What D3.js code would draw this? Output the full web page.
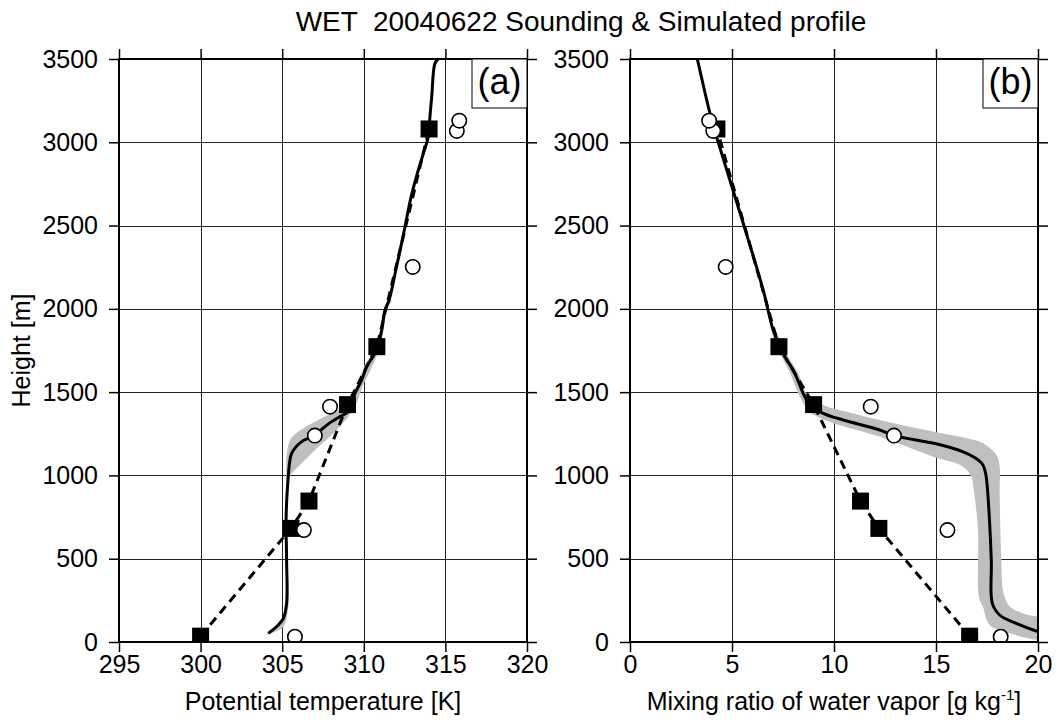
<!DOCTYPE html>
<html lang="en">
<head>
<meta charset="utf-8">
<title>WET 20040622 Sounding & Simulated profile</title>
<script src="https://d3js.org/d3.v7.min.js"></script>
<style>
  body { margin: 0; background: #fff; }
  svg text { font-family: "Liberation Sans", Arial, Helvetica, sans-serif; fill: #000; }
</style>
</head>
<body>
<svg id="chart" width="1058" height="725"></svg>
<script>
// ---- data ----
const heightTicks = [0, 500, 1000, 1500, 2000, 2500, 3000, 3500];
const thetaTicks = [295, 300, 305, 310, 315, 320];
const mixTicks = [0, 5, 10, 15, 20];

// radiosonde (filled squares, dashed line)
const sondeHeight = [35, 682, 846, 1425, 1773, 3080];
const sondeTheta = [300.0, 305.54, 306.64, 309.0, 310.8, 314.0];
const sondeMix = [16.65, 12.2, 11.3, 9.0, 7.3, 4.26];

// open circles
const obsHeight = [32, 672, 1239, 1413, 2252, 3068, 3130];
const obsTheta = [305.78, 306.33, 307.0, 307.93, 313.0, 315.7, 315.85];
const obsMix = [18.17, 15.56, 12.94, 11.8, 4.69, 4.08, 3.88];

// simulated mean profile, potential temperature
const modelThetaHeight = [52, 102, 142, 232, 492, 752, 993, 1073, 1133, 1203, 1237, 1283, 1323, 1353, 1383, 1425,
  1493, 1573, 1653, 1753, 1873, 1993, 2053, 2250, 2443, 2673, 2813, 2933, 3033, 3150, 3273, 3474, 3500];
const modelTheta = [304.15, 304.76, 305.07, 305.27, 305.27, 305.24, 305.37, 305.45, 305.58, 306.19, 306.95, 307.5,
  308.03, 308.54, 309.05, 309.2, 309.46, 309.87, 310.18, 310.79, 311.1, 311.3, 311.55, 312.0, 312.42, 312.9,
  313.28, 313.65, 313.95, 314.05, 314.16, 314.36, 314.56];

// simulated mean profile, mixing ratio
const modelMixHeight = [62, 112, 162, 232, 492, 873, 1000, 1063, 1103, 1143, 1190, 1239, 1273, 1333, 1373, 1423,
  1493, 1613, 1733, 1873, 2113, 2514, 3034, 3174, 3500];
const modelMix = [20.0, 18.93, 18.12, 17.76, 17.71, 17.55, 17.45, 17.3, 16.95, 16.3, 15.0, 12.94, 12.24, 10.45,
  9.47, 8.82, 8.49, 8.08, 7.51, 7.02, 6.53, 5.55, 4.24, 3.92, 3.30];

// ensemble spread (grey band) edges as [value, height]
const thetaBandLeft = [[304.0, 45], [304.7, 95], [305.05, 135], [305.2, 230], [305.2, 750], [305.25, 1000],
  [305.27, 1113], [305.48, 1213], [305.99, 1263], [307.41, 1343], [308.43, 1393], [309.0, 1430], [309.35, 1500],
  [309.75, 1580], [310.05, 1660], [310.65, 1760], [311.0, 1870], [311.2, 1990], [311.5, 2050]];
const thetaBandRight = [[304.2, 50], [304.56, 62], [305.07, 92], [305.37, 212], [305.33, 500], [305.3, 752],
  [305.45, 990], [305.78, 1033], [306.4, 1093], [307.2, 1170], [308.03, 1243], [309.05, 1353], [309.55, 1430],
  [309.9, 1530], [310.45, 1640], [310.95, 1760], [311.2, 1870], [311.4, 1990], [311.7, 2050]];

const mixBandOuter = [[7.1, 1873], [7.65, 1733], [8.3, 1600], [8.6, 1500], [9.47, 1423], [10.61, 1383],
  [12.24, 1333], [14.85, 1263], [16.49, 1223], [17.3, 1193], [17.96, 1123], [18.12, 1053], [18.12, 913],
  [18.2, 500], [18.3, 300], [18.6, 215], [19.3, 170], [20.3, 132]];
const mixBandInner = [[6.95, 1873], [7.35, 1733], [7.85, 1613], [8.3, 1480], [8.81, 1383], [9.79, 1323],
  [12.24, 1233], [14.9, 1110], [16.32, 1053], [16.73, 993], [16.85, 913], [17.06, 672], [17.1, 272],
  [17.3, 212], [17.63, 102], [18.61, 52], [20.3, 22]];

// ---- drawing ----
const svg = d3.select('#chart');
const plotTop = 59, plotBottom = 642;

svg.append('text')
  .attr('x', 581).attr('y', 31)
  .attr('text-anchor', 'middle')
  .style('font-size', '28px')
  .style('white-space', 'pre')
  .text('WET  20040622 Sounding & Simulated profile');

function drawPanel(p) {
  const x = d3.scaleLinear().domain(p.xDomain).range([p.left, p.right]);
  const y = d3.scaleLinear().domain([0, 3500]).range([plotBottom, plotTop]);
  const g = svg.append('g');

  g.append('clipPath').attr('id', p.id + '-clip')
    .append('rect')
    .attr('x', p.left).attr('y', plotTop)
    .attr('width', p.right - p.left).attr('height', plotBottom - plotTop);

  // grid
  g.append('g').selectAll('line').data(p.xTicks).join('line')
    .attr('x1', d => Math.round(x(d)) + 0.5).attr('x2', d => Math.round(x(d)) + 0.5)
    .attr('y1', plotTop).attr('y2', plotBottom)
    .attr('stroke', '#222').attr('stroke-width', 1);
  g.append('g').selectAll('line').data(heightTicks).join('line')
    .attr('y1', d => Math.round(y(d)) + 0.5).attr('y2', d => Math.round(y(d)) + 0.5)
    .attr('x1', p.left).attr('x2', p.right)
    .attr('stroke', '#222').attr('stroke-width', 1);

  const plot = g.append('g').attr('clip-path', 'url(#' + p.id + '-clip)');

  // grey spread band
  const band = p.bandA.concat(p.bandB.slice().reverse());
  plot.append('path')
    .attr('d', d3.line().x(d => x(d[0])).y(d => y(d[1])).curve(d3.curveCatmullRomClosed.alpha(0.5))(band))
    .attr('fill', '#bfbfbf').attr('stroke', 'none');

  // sounding (dashed)
  const sonde = p.sondeX.map((v, i) => [v, sondeHeight[i]]);
  plot.append('path')
    .attr('d', d3.line().x(d => x(d[0])).y(d => y(d[1]))(sonde))
    .attr('fill', 'none').attr('stroke', '#000').attr('stroke-width', 3)
    .attr('stroke-dasharray', '9,6');

  // simulated mean
  const model = p.modelX.map((v, i) => [v, p.modelH[i]]);
  plot.append('path')
    .attr('d', d3.line().x(d => x(d[0])).y(d => y(d[1])).curve(d3.curveCatmullRom.alpha(0.5))(model))
    .attr('fill', 'none').attr('stroke', '#000').attr('stroke-width', 3)
    .attr('stroke-linejoin', 'round');

  // squares
  plot.append('g').selectAll('rect').data(sonde).join('rect')
    .attr('x', d => x(d[0]) - 8.5).attr('y', d => y(d[1]) - 8.5)
    .attr('width', 17).attr('height', 17)
    .attr('fill', '#000');

  // circles
  const obs = p.obsX.map((v, i) => [v, obsHeight[i]]);
  plot.append('g').selectAll('circle').data(obs).join('circle')
    .attr('cx', d => x(d[0])).attr('cy', d => y(d[1]))
    .attr('r', 7.2)
    .attr('fill', '#fff').attr('stroke', '#000').attr('stroke-width', 1.6);

  // axes: ticks on all four sides, outward
  const style = sel => {
    sel.select('.domain').remove();
    sel.selectAll('.tick line').attr('stroke', '#000').attr('stroke-width', 1.5);
    sel.selectAll('.tick text').style('font-size', '25px').attr('fill', '#000');
  };
  g.append('g').attr('transform', 'translate(0,' + plotBottom + ')')
    .call(d3.axisBottom(x).tickValues(p.xTicks).tickSize(10).tickPadding(3).tickFormat(d3.format('d')))
    .call(style);
  g.append('g').attr('transform', 'translate(0,' + plotTop + ')')
    .call(d3.axisTop(x).tickValues(p.xTicks).tickSize(10).tickFormat(''))
    .call(style);
  g.append('g').attr('transform', 'translate(' + p.left + ',0)')
    .call(d3.axisLeft(y).tickValues(heightTicks).tickSize(10).tickPadding(11).tickFormat(d3.format('d')))
    .call(style);
  g.append('g').attr('transform', 'translate(' + p.right + ',0)')
    .call(d3.axisRight(y).tickValues(heightTicks).tickSize(10).tickFormat(''))
    .call(style);

  // frame
  g.append('rect')
    .attr('x', p.left).attr('y', plotTop)
    .attr('width', p.right - p.left).attr('height', plotBottom - plotTop)
    .attr('fill', 'none').attr('stroke', '#000').attr('stroke-width', 2);

  // panel tag
  g.append('rect')
    .attr('x', p.right - 55).attr('y', plotTop)
    .attr('width', 55).attr('height', 49)
    .attr('fill', '#fff').attr('stroke', '#000').attr('stroke-width', 1);
  g.append('text')
    .attr('x', p.right - 27.5).attr('y', plotTop + 35)
    .attr('text-anchor', 'middle')
    .style('font-size', '36px')
    .text(p.tag);

  // x label
  const xl = g.append('text')
    .attr('x', (p.left + p.right) / 2).attr('y', 710)
    .attr('text-anchor', 'middle')
    .style('font-size', '25px');
  p.xLabel(xl);
}

drawPanel({
  id: 'a', tag: '(a)', left: 119, right: 527,
  xDomain: [295, 320], xTicks: thetaTicks,
  sondeX: sondeTheta, obsX: obsTheta,
  modelX: modelTheta, modelH: modelThetaHeight,
  bandA: thetaBandLeft, bandB: thetaBandRight,
  xLabel: t => t.text('Potential temperature [K]')
});

drawPanel({
  id: 'b', tag: '(b)', left: 630, right: 1038,
  xDomain: [0, 20], xTicks: mixTicks,
  sondeX: sondeMix, obsX: obsMix,
  modelX: modelMix, modelH: modelMixHeight,
  bandA: mixBandOuter, bandB: mixBandInner,
  xLabel: t => {
    t.append('tspan').text('Mixing ratio of water vapor [g kg');
    t.append('tspan').attr('dy', -10).style('font-size', '15px').text('-1');
    t.append('tspan').attr('dy', 10).text(']');
  }
});

// y label
svg.append('text')
  .attr('transform', 'translate(30,' + ((plotTop + plotBottom) / 2) + ') rotate(-90)')
  .attr('text-anchor', 'middle')
  .style('font-size', '25px')
  .text('Height [m]');
</script>
</body>
</html>
